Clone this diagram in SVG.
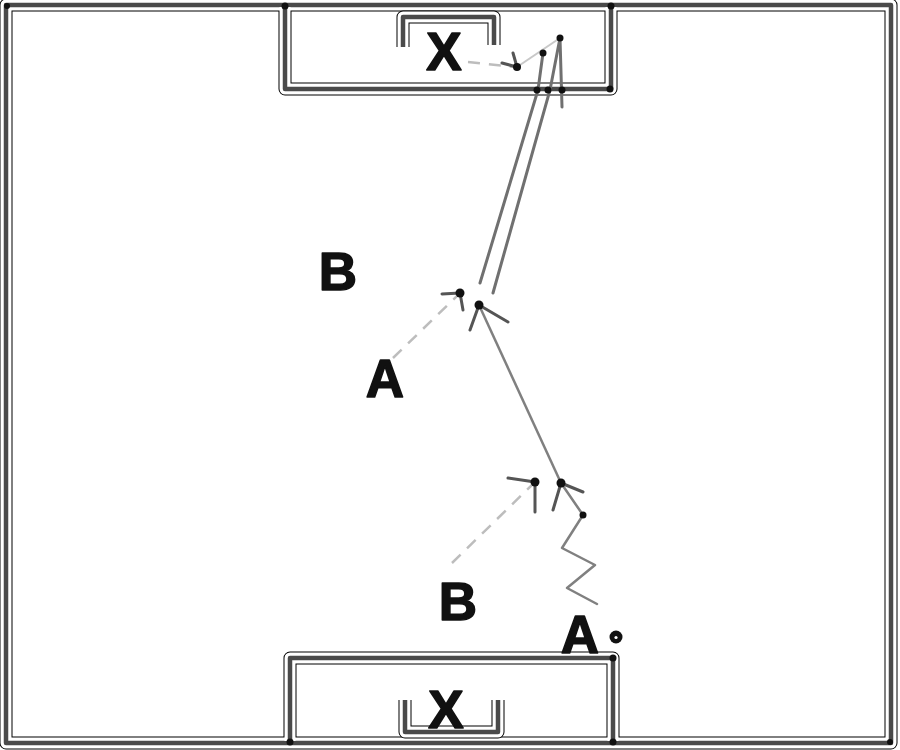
<svg xmlns="http://www.w3.org/2000/svg" width="900" height="750" viewBox="0 0 900 750">
<defs>
<style>
.ol{fill:none;stroke:#000;stroke-width:13;stroke-linejoin:round}
.wh{fill:none;stroke:#fff;stroke-width:11;stroke-linejoin:round}
.core{fill:none;stroke:#4a4a4a;stroke-width:4.5;stroke-linejoin:round}
.jd{fill:#111}
.dash{fill:none;stroke:#bdbdbd;stroke-width:2.5;stroke-dasharray:12 9}
.run{fill:none;stroke:#808080;stroke-width:2.5;stroke-linecap:round;stroke-linejoin:round}
.head{fill:none;stroke:#555;stroke-width:3;stroke-linecap:round;stroke-linejoin:round}
.shot{fill:none;stroke:#707070;stroke-width:3;stroke-linecap:round}
.faint{fill:none;stroke:#c8c8c8;stroke-width:2}
.tip{fill:#111}
.lbl{font-family:"Liberation Sans",Arial,sans-serif;font-weight:bold;font-size:53px;fill:#111;stroke:#111;stroke-width:1.5;stroke-linejoin:round;text-anchor:middle}
</style>
</defs>
<rect width="900" height="750" fill="#fff"/>
<g id="field">
<path class="ol" d="M6,5 H891 V743 H6 Z"/>
<path class="wh" d="M6,5 H891 V743 H6 Z"/>
<path class="core" d="M6,5 H891 V743 H6 Z"/>
<circle class="jd" cx="7" cy="6" r="3"/>
<circle class="jd" cx="890" cy="742" r="3"/>
</g>
<g id="box-top">
<path class="ol" d="M285,11 V89 H611 V11"/>
<path class="wh" d="M285,7 V89 H611 V7"/>
<path class="core" d="M285,7 V89 H611 V7"/>
<circle class="jd" cx="285" cy="6" r="3.5"/>
<circle class="jd" cx="611" cy="6" r="3.5"/>
<circle class="jd" cx="610" cy="89" r="3.5"/>
</g>
<g id="box-bottom">
<path class="ol" d="M290,737 V658 H613 V737"/>
<path class="wh" d="M290,741 V658 H613 V741"/>
<path class="core" d="M290,741 V658 H613 V741"/>
<circle class="jd" cx="613" cy="658" r="3.5"/>
<circle class="jd" cx="290" cy="742" r="3.5"/>
<circle class="jd" cx="613" cy="742" r="3.5"/>
</g>
<g id="goal-top">
<path class="ol" d="M403,47 V17 H494 V45"/>
<path class="wh" d="M403,47 V17 H494 V45"/>
<path class="core" d="M403,47 V17 H494 V45"/>
</g>
<g id="goal-bottom">
<path class="ol" d="M405,700 V732 H498 V700"/>
<path class="wh" d="M405,700 V732 H498 V700"/>
<path class="core" d="M405,700 V732 H498 V700"/>
</g>
<g id="connectors">
<path class="dash" d="M468,62 L515,67"/>
<path class="head" d="M502,63 L517,67 L513,53"/>
<path class="faint" d="M517,67 L560,38"/>
<path class="dash" d="M393,358 L458,295"/>
<path class="head" d="M442,294 L460,293 L463,310"/>
<path class="dash" d="M452,563 L533,484"/>
<path class="head" d="M508,478 L535,482 L535,512"/>
<path class="run" d="M561,483 L479,305"/>
<path class="head" d="M470,330 L479,305 L508,322"/>
<path class="run" d="M597,604 L567,588 L595,565 L562,548 L583,515 L561,483"/>
<path class="head" d="M553,510 L561,483 L583,492"/>
<path class="shot" d="M480,283 L538,90 L543,53"/>
<path class="shot" d="M493,293 L550,90 L560,38"/>
<path class="shot" d="M562,107 L560,38"/>
<circle class="tip" cx="517" cy="67" r="4"/>
<circle class="tip" cx="460" cy="293" r="4.5"/>
<circle class="tip" cx="479" cy="305" r="4.5"/>
<circle class="tip" cx="535" cy="482" r="4.5"/>
<circle class="tip" cx="561" cy="483" r="4.5"/>
<circle class="tip" cx="583" cy="515" r="3.5"/>
<circle class="tip" cx="543" cy="53" r="3.5"/>
<circle class="tip" cx="560" cy="38" r="3.5"/>
<circle class="tip" cx="537" cy="90" r="3.5"/>
<circle class="tip" cx="548" cy="90" r="3.5"/>
<circle class="tip" cx="562" cy="90" r="3.5"/>
</g>
<g id="player-x-top"><text class="lbl" x="444" y="70">X</text></g>
<g id="player-x-bottom"><text class="lbl" x="446" y="728">X</text></g>
<g id="player-b-top"><text class="lbl" x="338" y="290">B</text></g>
<g id="player-a-mid"><text class="lbl" x="385" y="397">A</text></g>
<g id="player-b-bottom"><text class="lbl" x="458" y="620">B</text></g>
<g id="player-a-bottom"><text class="lbl" x="580" y="653">A</text></g>
<g id="ball">
<circle cx="616" cy="637" r="6.5" fill="#111"/>
<circle cx="616" cy="637.5" r="1.6" fill="#fff"/>
</g>
</svg>
